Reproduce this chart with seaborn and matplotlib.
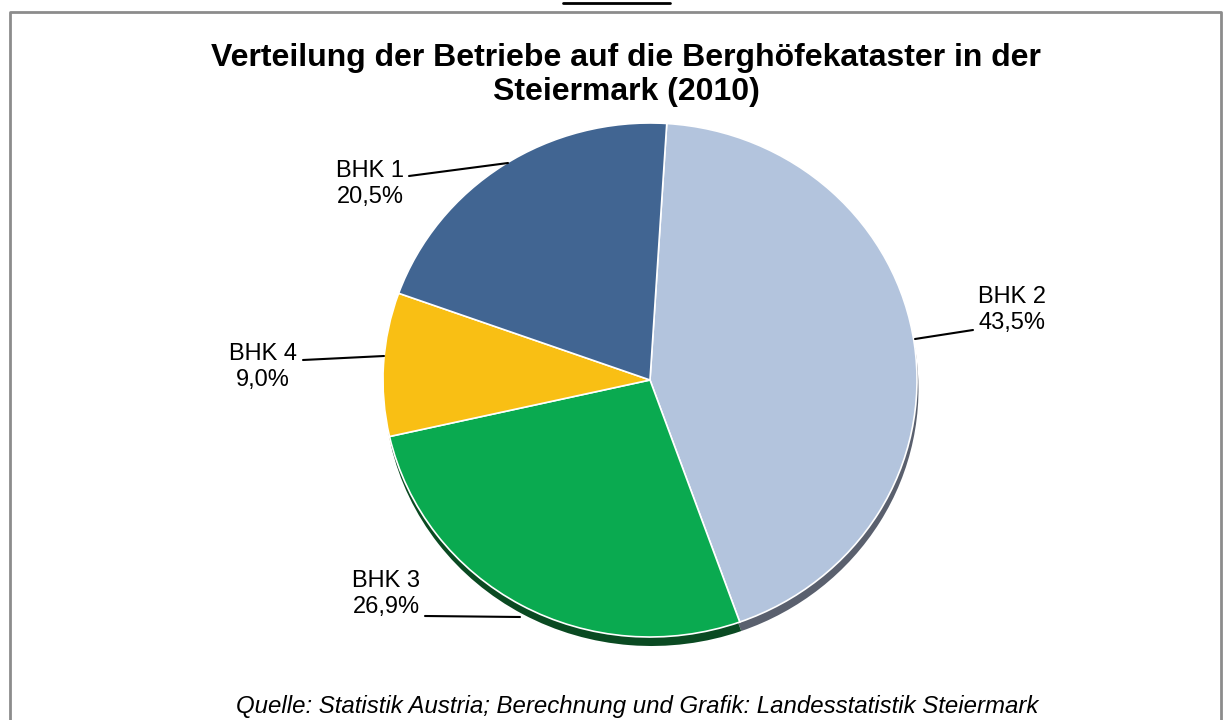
import matplotlib
matplotlib.use("Agg")
import matplotlib.pyplot as plt
import seaborn as sns

# ---- data ----
categories = ["BHK 2", "BHK 3", "BHK 4", "BHK 1"]
shares = [43.5, 26.9, 9.0, 20.5]
share_labels = ["43,5%", "26,9%", "9,0%", "20,5%"]
colors = ["#B3C4DD", "#0AAA50", "#F9BF14", "#416592"]
shadow_colors = ["#5A606E", "#0A4A22", "#8A6A0A", "#22364F"]

title = "Verteilung der Betriebe auf die Berghöfekataster in der\nSteiermark (2010)"
source = "Quelle: Statistik Austria; Berechnung und Grafik: Landesstatistik Steiermark"

sns.set_theme(style="white")
plt.rcParams["font.family"] = ["Liberation Sans", "DejaVu Sans"]

W, H = 1229, 720
fig = plt.figure(figsize=(W / 100, H / 100), dpi=100)
fig.patch.set_facecolor("white")

# pie axes: 1 unit = rx px horizontally, ry px vertically
cx, cy, rx, ry = 650, 380, 267, 257
ax = fig.add_axes([0, 0, 1, 1])
# shadow
ax.pie(shares, colors=shadow_colors, startangle=86.4, counterclock=False,
       center=(1.5 / rx, -9 / ry), radius=1.0,
       wedgeprops=dict(edgecolor="none", linewidth=0))
ax.pie(shares, colors=colors, startangle=86.4, counterclock=False,
       center=(0, 0), radius=1.0,
       wedgeprops=dict(edgecolor="white", linewidth=1.2))
ax.set_aspect("auto")
ax.set_xlim(-cx / rx, (W - cx) / rx)
ax.set_ylim(-(H - cy) / ry, cy / ry)
ax.axis("off")

# overlay axes in pixel coords
ov = fig.add_axes([0, 0, 1, 1], facecolor="none")
ov.set_xlim(0, W)
ov.set_ylim(H, 0)
ov.axis("off")

# frame
ov.plot([10, 10, 1221, 1221], [730, 12, 12, 730], color="#8C8C8C", lw=2, clip_on=False)
ov.plot([563, 670], [3, 3], color="black", lw=2)

ov.text(626, 75, title, ha="center", va="center", fontsize=23, fontweight="bold",
        linespacing=1.15, color="black")
ov.text(637, 706, source, ha="center", va="center", fontsize=17.3,
        style="italic", color="black")

# labels: (text x, text y center, line points)
label_pos = {
    "BHK 2": (1012, 310, [(973, 330), (915, 339)]),
    "BHK 3": (386, 594, [(425, 616), (520, 617)]),
    "BHK 4": (263, 367, [(303, 360), (384, 356)]),
    "BHK 1": (370, 184, [(409, 176), (508, 163)]),
}
for cat, lab in zip(categories, share_labels):
    x, y, pts = label_pos[cat]
    ov.text(x, y, f"{cat}\n{lab}", ha="center", va="center", fontsize=17,
            linespacing=1.25, color="black")
    ov.plot([p[0] for p in pts], [p[1] for p in pts], color="black", lw=1.5)

fig.savefig("out.png", dpi=100, facecolor="white")
